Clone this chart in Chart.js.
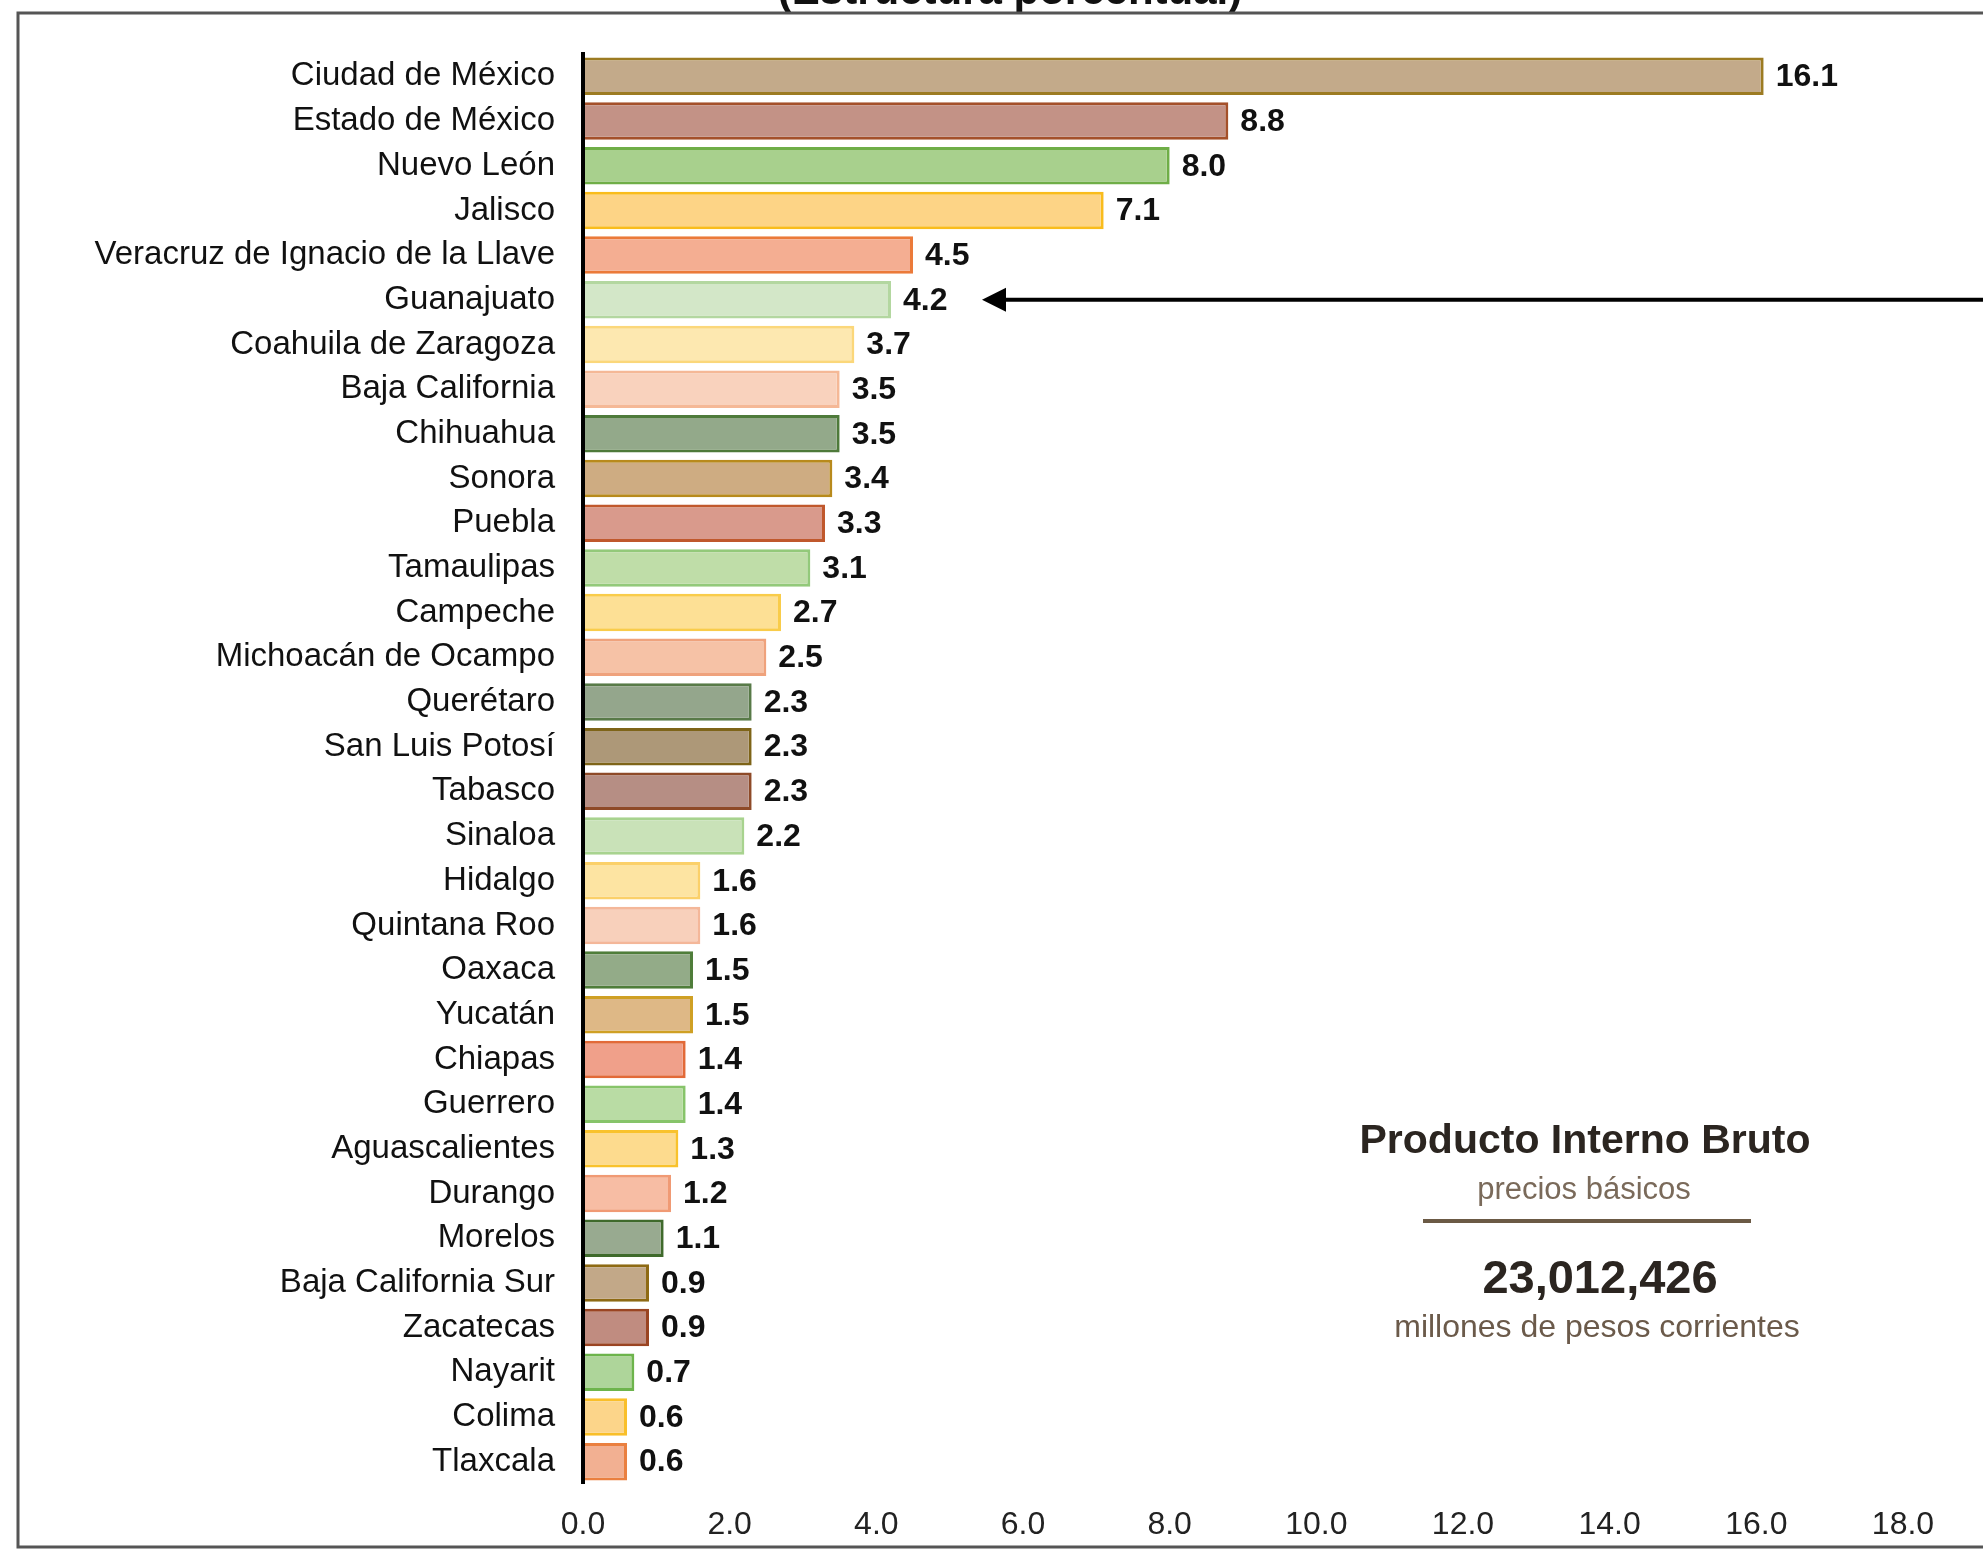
<!DOCTYPE html>
<html>
<head>
<meta charset="utf-8">
<script src="https://cdn.jsdelivr.net/npm/chart.js@4/dist/chart.umd.min.js"></script>
<style>
  html, body { margin: 0; padding: 0; background: #fff; }
  #wrap { position: relative; width: 1983px; height: 1550px; }
</style>
</head>
<body>
<div id="wrap"><canvas id="pibChart" width="1983" height="1550"></canvas></div>
<script>
// Participación por entidad federativa (estructura porcentual)
const estados = ['Ciudad de México', 'Estado de México', 'Nuevo León', 'Jalisco',
  'Veracruz de Ignacio de la Llave', 'Guanajuato', 'Coahuila de Zaragoza', 'Baja California',
  'Chihuahua', 'Sonora', 'Puebla', 'Tamaulipas', 'Campeche', 'Michoacán de Ocampo',
  'Querétaro', 'San Luis Potosí', 'Tabasco', 'Sinaloa', 'Hidalgo', 'Quintana Roo',
  'Oaxaca', 'Yucatán', 'Chiapas', 'Guerrero', 'Aguascalientes', 'Durango', 'Morelos',
  'Baja California Sur', 'Zacatecas', 'Nayarit', 'Colima', 'Tlaxcala'];
const participacion = [16.1, 8.8, 8.0, 7.1, 4.5, 4.2, 3.7, 3.5, 3.5, 3.4, 3.3, 3.1, 2.7, 2.5,
  2.3, 2.3, 2.3, 2.2, 1.6, 1.6, 1.5, 1.5, 1.4, 1.4, 1.3, 1.2, 1.1, 0.9, 0.9, 0.7, 0.6, 0.6];
const xTicks = [0, 2, 4, 6, 8, 10, 12, 14, 16, 18];

const fillColors = ['#c3aa8a', '#c39286', '#a8d08d', '#fdd486', '#f4ae92', '#d3e7c8', '#fde8b0', '#f9d2bd',
  '#93a98a', '#ceac82', '#d99a8c', '#bfdda8', '#fde095', '#f6c2a6', '#94a68c', '#ad9878',
  '#b68e84', '#c9e2b8', '#fde4a2', '#f8d0bb', '#93ab88', '#deb886', '#f0a08a', '#b9dca4',
  '#fddb8e', '#f7bda4', '#98aa90', '#c2a888', '#c08c80', '#aed59a', '#fcd58a', '#f2b092'];
const borderColors = ['#9c7b22', '#a4502a', '#6fae47', '#f9bc1c', '#eb7a3a', '#b3d7a0', '#fbd77a', '#f5b896',
  '#4e7a3a', '#b88a1c', '#c0582c', '#93c97a', '#f9cc4a', '#efa27c', '#587a48', '#7e6418',
  '#8e4a28', '#a8d38f', '#fbd069', '#f4b799', '#4f7d3a', '#cfa024', '#e26a38', '#87c46a',
  '#f9c22c', '#f09a74', '#3f6a2c', '#8e6a14', '#9a4422', '#6db44c', '#f9bf2a', '#ea8040'];

const FONT = "'Liberation Sans', Arial, sans-serif";
Chart.defaults.font.family = FONT;

// etiquetas de valor al final de cada barra + eje vertical encima de las barras
const valueLabels = {
  id: 'valueLabels',
  afterDatasetsDraw(chart) {
    const ctx = chart.ctx;
    const meta = chart.getDatasetMeta(0);
    const area = chart.chartArea;
    ctx.save();
    ctx.strokeStyle = '#000';
    ctx.lineWidth = 4;
    ctx.beginPath();
    ctx.moveTo(area.left, area.top - 2);
    ctx.lineTo(area.left, area.bottom);
    ctx.stroke();

    ctx.font = 'bold 32px ' + FONT;
    ctx.fillStyle = '#111';
    ctx.textAlign = 'left';
    ctx.textBaseline = 'middle';
    meta.data.forEach(function(bar, i) {
      ctx.fillText(participacion[i].toFixed(1), bar.x + 12, bar.y + 1);
    });
    ctx.restore();
  }
};

// marco, título recortado, flecha y recuadro del PIB
const notes = {
  id: 'notes',
  afterDraw(chart) {
    const ctx = chart.ctx;
    ctx.save();
    ctx.font = 'bold 42px ' + FONT;
    ctx.fillStyle = '#111';
    ctx.textAlign = 'center';
    ctx.textBaseline = 'alphabetic';
    ctx.fillText('(Estructura porcentual)', 1010, 4);

    ctx.strokeStyle = '#555';
    ctx.lineWidth = 3;
    ctx.beginPath();
    ctx.moveTo(1983, 13); ctx.lineTo(18, 13); ctx.lineTo(18, 1547); ctx.lineTo(1983, 1547);
    ctx.stroke();

    // flecha hacia Guanajuato
    const yArrow = chart.scales.y.getPixelForValue(5);
    ctx.strokeStyle = '#000';
    ctx.fillStyle = '#000';
    ctx.lineWidth = 4;
    ctx.beginPath();
    ctx.moveTo(1983, yArrow); ctx.lineTo(1000, yArrow);
    ctx.stroke();
    ctx.beginPath();
    ctx.moveTo(982, yArrow); ctx.lineTo(1006, yArrow - 12); ctx.lineTo(1006, yArrow + 12);
    ctx.closePath();
    ctx.fill();

    ctx.textBaseline = 'middle';
    ctx.fillStyle = '#2b2520';
    ctx.font = 'bold 41px ' + FONT;
    ctx.fillText('Producto Interno Bruto', 1585, 1142);
    ctx.fillStyle = '#7a6a5a';
    ctx.font = '31px ' + FONT;
    ctx.fillText('precios básicos', 1584, 1190);
    ctx.strokeStyle = '#6b5a45';
    ctx.lineWidth = 4;
    ctx.beginPath();
    ctx.moveTo(1423, 1221); ctx.lineTo(1751, 1221);
    ctx.stroke();
    ctx.fillStyle = '#2b2520';
    ctx.font = 'bold 47px ' + FONT;
    ctx.fillText('23,012,426', 1600, 1280);
    ctx.fillStyle = '#6b5a4a';
    ctx.font = '32px ' + FONT;
    ctx.fillText('millones de pesos corrientes', 1597, 1328);
    ctx.restore();
  }
};

new Chart(document.getElementById('pibChart').getContext('2d'), {
  type: 'bar',
  data: {
    labels: estados,
    datasets: [{
      data: participacion,
      backgroundColor: fillColors,
      borderColor: borderColors,
      borderWidth: 3,
      barPercentage: 0.84,
      categoryPercentage: 1.0
    }]
  },
  options: {
    indexAxis: 'y',
    responsive: false,
    devicePixelRatio: 1,
    animation: false,
    layout: { padding: { top: 54, right: 80, left: 0, bottom: 0 } },
    plugins: {
      legend: { display: false },
      tooltip: { enabled: false }
    },
    scales: {
      x: {
        min: 0,
        max: 18,
        afterFit: function(scale) { scale.height = 66; },
        afterBuildTicks: function(scale) { scale.ticks = xTicks.map(v => ({ value: v })); },
        ticks: {
          callback: v => Number(v).toFixed(1),
          font: { size: 32 },
          color: '#222',
          padding: 22,
          maxRotation: 0
        },
        grid: { display: false, drawTicks: false },
        border: { display: false }
      },
      y: {
        afterFit: function(scale) { scale.width = 583; },
        ticks: {
          font: { size: 33 },
          color: '#111',
          padding: 28,
          autoSkip: false
        },
        grid: { display: false, drawTicks: false },
        border: { display: false }
      }
    }
  },
  plugins: [valueLabels, notes]
});
</script>
</body>
</html>
